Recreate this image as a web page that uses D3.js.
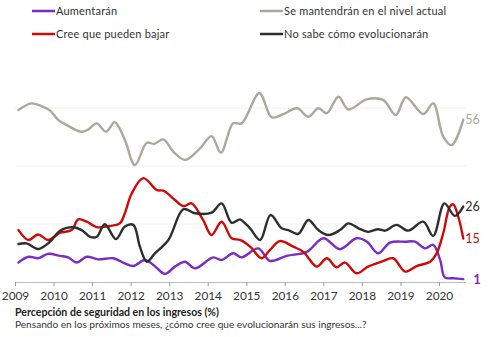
<!DOCTYPE html>
<html>
<head>
<meta charset="utf-8">
<script src="https://cdn.jsdelivr.net/npm/d3@7"></script>
<style>
  body { margin: 0; background: #fff; }
  svg { display: block; font-family: Lato, "Noto Sans", sans-serif; }
</style>
</head>
<body>
<div id="chart"></div>
<script>

// series: [decimal year, %]
const aumentaran = [
  [2009.09,6.7],[2009.35,8.7],[2009.60,8.2],[2009.86,9.7],[2010.17,9],[2010.38,8.5],[2010.60,6.7],
  [2010.86,8.7],[2011.16,7.8],[2011.55,8.2],[2011.85,6.4],[2012.07,5.5],[2012.37,7.6],[2012.59,5.9],
  [2012.89,2.8],[2013.15,5.3],[2013.41,7],[2013.67,4.7],[2014.14,8.5],[2014.36,7.6],[2014.66,9.9],
  [2014.88,8.5],[2015.31,11.6],[2015.61,7.3],[2016.05,9],[2016.57,10.4],[2017.00,15.1],[2017.43,11.3],
  [2017.86,15.1],[2018.13,13.9],[2018.42,9.9],[2018.73,13.6],[2019.12,13.9],[2019.38,13.9],[2019.64,11.6],
  [2019.85,12.8],[2020.03,7.6],[2020.15,1.6],[2020.37,1.3],[2020.63,1]
];
const mantendran = [
  [2009.09,59.3],[2009.43,61.6],[2009.73,60.4],[2009.91,59.1],[2010.12,55.9],[2010.34,54.1],[2010.73,51.8],
  [2010.90,52.6],[2011.12,54.7],[2011.36,51.8],[2011.59,55.1],[2011.85,49],[2012.11,40.3],[2012.42,48],
  [2012.61,47.6],[2012.85,49.2],[2013.11,44.9],[2013.41,42.1],[2013.80,46.1],[2014.10,50.3],[2014.34,44.6],
  [2014.66,54.7],[2014.88,54.7],[2015.34,65.1],[2015.66,56.8],[2015.96,57.9],[2016.32,59.9],[2016.61,57],
  [2016.87,59.9],[2017.09,58.2],[2017.39,63.9],[2017.65,59.5],[2018.12,63],[2018.55,62.8],[2018.88,57.6],
  [2019.14,63.7],[2019.59,57.9],[2019.85,61.6],[2020.11,50.1],[2020.33,47.2],[2020.63,56]
];
const bajar = [
  [2009.09,17.9],[2009.35,14.5],[2009.60,16.4],[2009.86,14.5],[2010.17,17],[2010.47,17.9],[2010.64,21.6],
  [2010.86,20.8],[2011.12,18.9],[2011.46,19.3],[2011.72,20.2],[2011.85,23.7],[2012.03,30.6],[2012.33,35.8],
  [2012.68,31.7],[2012.85,31.5],[2013.15,28.3],[2013.37,26.2],[2013.58,27.1],[2013.88,21.4],[2014.10,16.2],
  [2014.36,20.8],[2014.62,15.1],[2014.84,14.5],[2015.10,12.2],[2015.40,8.2],[2015.61,11],[2015.87,14.1],
  [2016.22,12.2],[2016.48,10.4],[2016.83,5.3],[2017.09,8.2],[2017.34,5.1],[2017.56,6.7],[2017.86,3],
  [2018.16,5.3],[2018.51,7],[2018.81,8.2],[2019.12,3.6],[2019.42,5.5],[2019.77,7],[2019.94,9.9],
  [2020.11,16.8],[2020.28,26],[2020.37,26.8],[2020.50,22.5],[2020.63,15]
];
const nosabe = [
  [2009.09,13.1],[2009.30,13.3],[2009.60,11.4],[2009.91,13.9],[2010.17,17.7],[2010.51,18.9],[2010.73,17.9],
  [2010.95,15.6],[2011.12,15.6],[2011.33,19.9],[2011.62,14.8],[2011.85,19.1],[2012.07,19.7],[2012.24,12.2],
  [2012.42,7],[2012.63,9.9],[2012.98,14.5],[2013.37,25.1],[2013.67,23.7],[2014.10,23.9],[2014.36,27.1],
  [2014.62,20.4],[2014.84,21.6],[2014.97,20.2],[2015.10,18.5],[2015.36,14.5],[2015.63,23.1],[2015.92,18.5],
  [2016.09,17.9],[2016.35,16.6],[2016.61,21.4],[2016.87,17.9],[2017.13,16.2],[2017.43,17.9],[2017.65,20.2],
  [2017.91,18.5],[2018.16,17.3],[2018.42,18.2],[2018.60,17.7],[2018.90,19.7],[2019.20,17.7],[2019.59,20.8],
  [2019.85,15.9],[2020.14,27.1],[2020.41,22.8],[2020.63,26]
];

const names = ["Aumentarán", "Se mantendrán en el nivel actual", "Cree que pueden bajar", "No sabe cómo evolucionarán"];
const colors = ["#7a2cc4", "#aaa99a", "#d00808", "#2e2e2e"];
const years = d3.range(2009, 2021);
const gridValues = [20, 40, 60];

const series = [aumentaran, mantendran, bajar, nosabe];

const width = 498, height = 337;

const svg = d3.select("#chart").append("svg")
    .attr("width", width)
    .attr("height", height);

const x = d3.scaleLinear().domain([2009, 2020]).range([15, 439]);
const y = d3.scaleLinear().domain([0, 80]).range([282, 50]);

// faint grid
svg.append("g")
  .selectAll("line")
  .data(gridValues)
  .join("line")
    .attr("x1", 15).attr("x2", 466)
    .attr("y1", d => y(d)).attr("y2", d => y(d))
    .attr("stroke", "#f0f0f0")
    .attr("stroke-width", 1);

// x axis
const xAxis = svg.append("g")
    .attr("transform", `translate(0,${y(0)})`)
    .call(d3.axisBottom(x).tickValues(years).tickFormat(d3.format("d")).tickSize(4).tickSizeOuter(0));
xAxis.select(".domain").attr("stroke", "#bdbdbd").attr("d", `M15,0.5H466`);
xAxis.selectAll(".tick line").attr("stroke", "#999");
xAxis.selectAll(".tick text")
    .attr("fill", "#333")
    .attr("font-size", 11.8)
    .attr("font-family", "Lato, sans-serif")
    .attr("dy", "0.9em");

const line = d3.line()
    .x(d => x(d[0]))
    .y(d => y(d[1]))
    .curve(d3.curveCatmullRom.alpha(0.5));

// draw order: gray, purple, red, black
const order = [1, 0, 2, 3];
svg.append("g")
    .attr("fill", "none")
    .attr("stroke-width", 2.4)
    .attr("stroke-linejoin", "round")
    .attr("stroke-linecap", "round")
  .selectAll("path")
  .data(order)
  .join("path")
    .attr("stroke", i => colors[i])
    .attr("d", i => line(series[i]));

// end labels
svg.append("g")
  .selectAll("text")
  .data(order)
  .join("text")
    .attr("x", i => x(series[i][series[i].length - 1][0]) + (i == 0 ? 10 : 2))
    .attr("y", i => y(series[i][series[i].length - 1][1]))
    .attr("dy", "0.35em")
    .attr("fill", i => colors[i])
    .attr("font-size", i => i == 0 ? 13 : 12.5)
    .attr("font-weight", i => i == 0 ? "bold" : "normal")
    .text(i => series[i][series[i].length - 1][1]);

// legend
const legendPos = [[32, 11], [260, 11], [32, 34], [260, 34]];
const lg = svg.append("g")
  .selectAll("g")
  .data(names)
  .join("g")
    .attr("transform", (d, i) => `translate(${legendPos[i][0]},${legendPos[i][1]})`);
lg.append("line")
    .attr("x1", 0).attr("x2", 23)
    .attr("stroke", (d, i) => colors[i])
    .attr("stroke-width", 2.5);
lg.append("text")
    .attr("x", 24)
    .attr("dy", "0.35em")
    .attr("font-size", 11)
    .attr("letter-spacing", 0.2)
    .attr("fill", "#333")
    .text(d => d);

// title
svg.append("text")
    .attr("x", 15).attr("y", 316)
    .attr("font-size", 10.6)
    .attr("font-weight", "bold")
    .attr("fill", "#222")
    .text("Percepción de seguridad en los ingresos (%)");
svg.append("text")
    .attr("x", 15).attr("y", 328)
    .attr("font-size", 10.1)
    .attr("fill", "#333")
    .text("Pensando en los próximos meses, ¿cómo cree que evolucionarán sus ingresos...?");

</script>
</body>
</html>
